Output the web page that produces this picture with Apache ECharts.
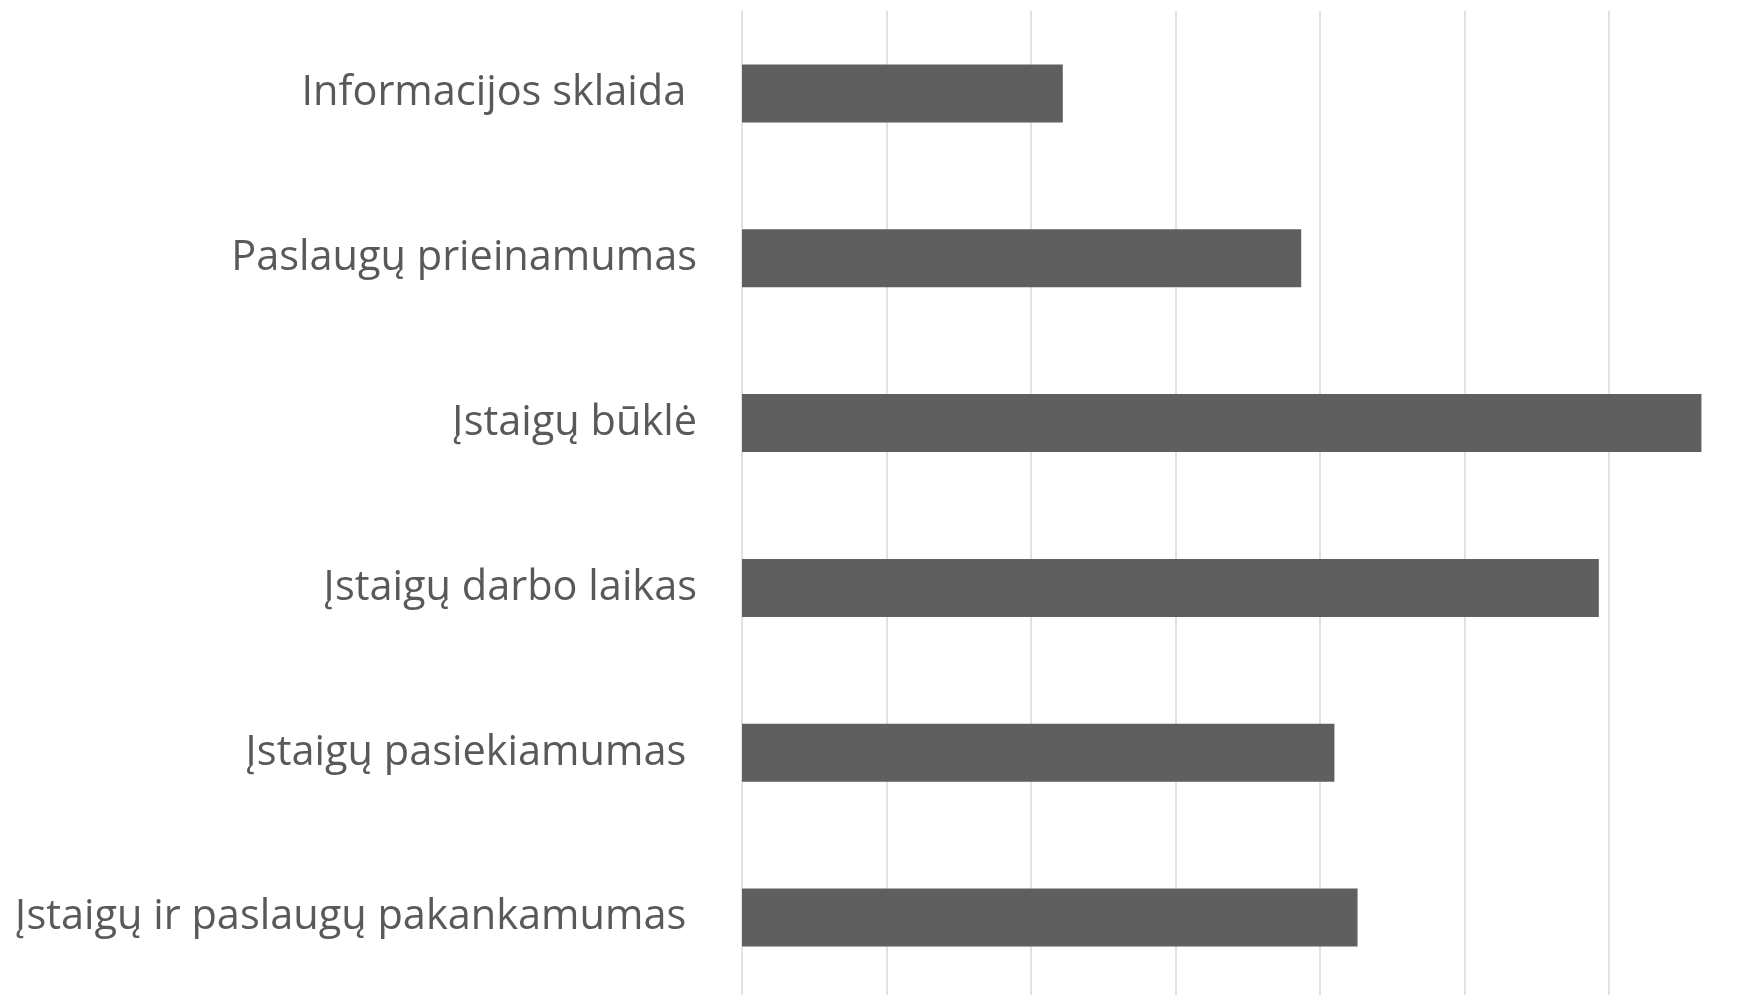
<!DOCTYPE html>
<html>
<head>
<meta charset="utf-8">
<script src="https://cdn.jsdelivr.net/npm/echarts@6/dist/echarts.min.js"></script>
<style>
html,body{margin:0;padding:0;background:#fff;overflow:hidden;}
#chart{width:1739px;height:1002px;}
</style>
</head>
<body>
<div id="chart"></div>
<script>
const categories = [
  "Informacijos sklaida ",
  "Paslaugų prieinamumas",
  "Įstaigų būklė",
  "Įstaigų darbo laikas",
  "Įstaigų pasiekiamumas ",
  "Įstaigų ir paslaugų pakankamumas "
];
const values = [2.22, 3.87, 6.64, 5.93, 4.10, 4.26];
const xMin = 0;
const xMax = 6.9;
const xInterval = 1;

const chart = echarts.init(document.getElementById('chart'), null, {renderer: 'canvas'});
chart.setOption({
  animation: false,
  backgroundColor: '#ffffff',
  grid: {left: 742, top: 11, right: 0, height: 989, containLabel: false},
  xAxis: {
    type: 'value',
    min: xMin,
    max: xMax,
    interval: xInterval,
    axisLine: {show: false},
    axisTick: {show: false},
    axisLabel: {show: false},
    splitLine: {show: true, showMaxLine: false, lineStyle: {color: '#d9d9d9', width: 1.5}}
  },
  yAxis: {
    type: 'category',
    data: categories,
    inverse: true,
    axisLine: {show: false},
    axisTick: {show: false},
    splitLine: {show: false},
    axisLabel: {
      margin: 45,
      color: '#595959',
      fontFamily: 'Open Sans',
      fontSize: 41.5,
      padding: [5, 0, 0, 0]
    }
  },
  series: [{
    type: 'bar',
    data: values,
    barWidth: 58,
    itemStyle: {color: '#5f5f5f'}
  }]
});
</script>
</body>
</html>
